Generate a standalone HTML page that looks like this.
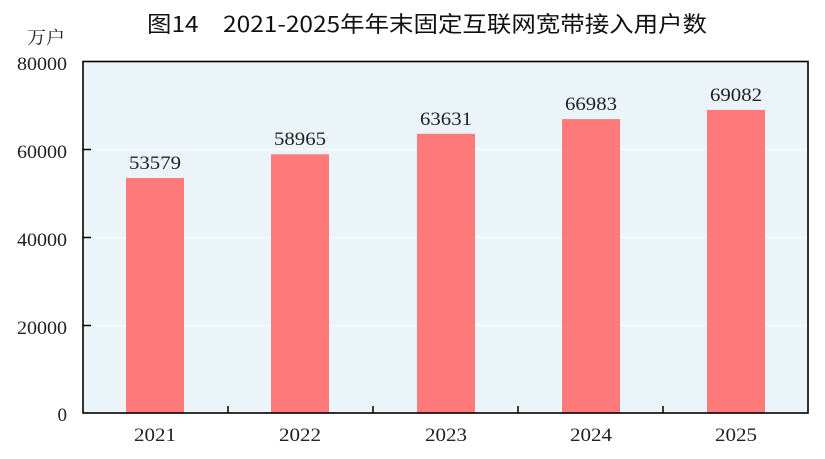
<!DOCTYPE html>
<html><head><meta charset="utf-8"><style>html,body{margin:0;padding:0;background:#fff}svg{display:block}</style></head>
<body>
<svg width="825" height="459" viewBox="0 0 825 459" xmlns="http://www.w3.org/2000/svg">
<text x="147" y="32" font-family="'Noto Sans CJK SC','WenQuanYi Zen Hei',sans-serif" font-size="22" font-weight="400" fill="#111" textLength="560" lengthAdjust="spacingAndGlyphs">图14　2021-2025年年末固定互联网宽带接入用户数</text>
<text x="27" y="44" font-family="'Noto Serif CJK SC','Noto Sans CJK SC',serif" font-size="18" fill="#222" textLength="38" lengthAdjust="spacingAndGlyphs">万户</text>
<rect x="83" y="61.5" width="725" height="351.5" fill="#ebf4f8"/>
<g stroke="#fff" stroke-width="1.2">
<line x1="83" x2="808" y1="149.5" y2="149.5"/>
<line x1="83" x2="808" y1="237.5" y2="237.5"/>
<line x1="83" x2="808" y1="325.5" y2="325.5"/>
</g>
<g fill="#ff7b7b">
<rect x="126" y="178" width="58" height="235"/>
<rect x="271" y="154.3" width="58" height="258.7"/>
<rect x="417" y="133.8" width="58" height="279.2"/>
<rect x="562" y="119.1" width="58" height="293.9"/>
<rect x="707" y="109.9" width="58" height="303.1"/>
</g>
<rect x="83" y="61.5" width="725" height="351.5" fill="none" stroke="#000" stroke-width="1.6"/>
<g stroke="#000" stroke-width="1.5">
<line x1="83" x2="91" y1="149.5" y2="149.5"/>
<line x1="83" x2="91" y1="237.5" y2="237.5"/>
<line x1="83" x2="91" y1="325.5" y2="325.5"/>
<line x1="228" x2="228" y1="406" y2="413"/>
<line x1="373" x2="373" y1="406" y2="413"/>
<line x1="518" x2="518" y1="406" y2="413"/>
<line x1="663" x2="663" y1="406" y2="413"/>
</g>
<g font-family="'Liberation Serif',serif" font-size="19" fill="#222" text-anchor="end">
<text x="67" y="70" textLength="50" lengthAdjust="spacingAndGlyphs">80000</text>
<text x="67" y="158" textLength="50" lengthAdjust="spacingAndGlyphs">60000</text>
<text x="67" y="246" textLength="50" lengthAdjust="spacingAndGlyphs">40000</text>
<text x="67" y="334" textLength="50" lengthAdjust="spacingAndGlyphs">20000</text>
<text x="67" y="421">0</text>
</g>
<g font-family="'Liberation Serif',serif" font-size="19" fill="#222" text-anchor="middle">
<text x="155" y="441" textLength="42" lengthAdjust="spacingAndGlyphs">2021</text>
<text x="300" y="441" textLength="42" lengthAdjust="spacingAndGlyphs">2022</text>
<text x="446" y="441" textLength="42" lengthAdjust="spacingAndGlyphs">2023</text>
<text x="591" y="441" textLength="42" lengthAdjust="spacingAndGlyphs">2024</text>
<text x="736" y="441" textLength="42" lengthAdjust="spacingAndGlyphs">2025</text>
<text x="155" y="169" textLength="52" lengthAdjust="spacingAndGlyphs">53579</text>
<text x="300" y="145" textLength="52" lengthAdjust="spacingAndGlyphs">58965</text>
<text x="446" y="125" textLength="52" lengthAdjust="spacingAndGlyphs">63631</text>
<text x="591" y="110" textLength="52" lengthAdjust="spacingAndGlyphs">66983</text>
<text x="736" y="101" textLength="52" lengthAdjust="spacingAndGlyphs">69082</text>
</g>
</svg>
</body></html>
